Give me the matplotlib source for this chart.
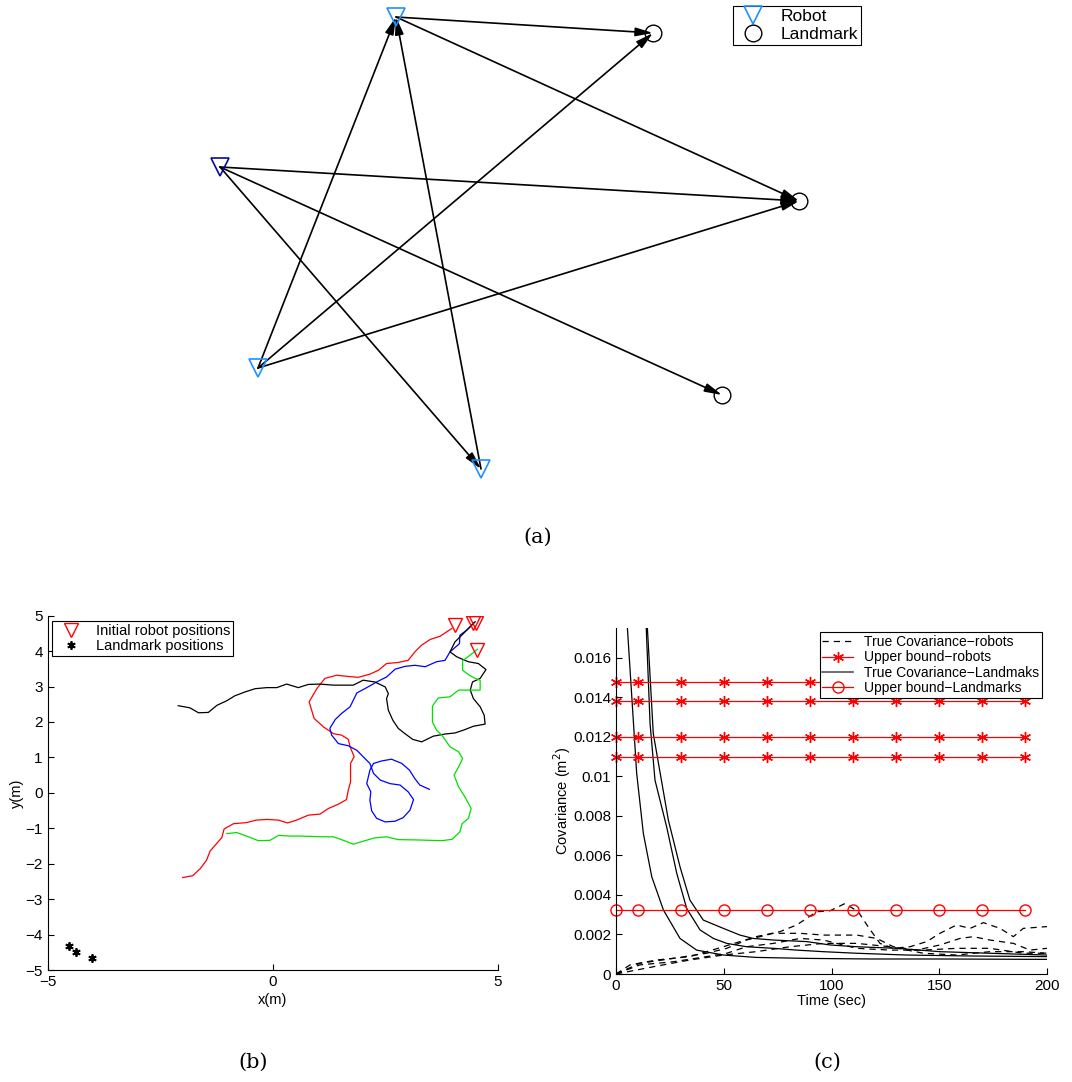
import matplotlib
matplotlib.use("Agg")
import matplotlib.pyplot as plt
from matplotlib.lines import Line2D

plt.rcParams["font.family"] = ["Liberation Sans", "DejaVu Sans"]
plt.rcParams["axes.linewidth"] = 0.8

# ---------------- panel (a): sensing graph (page pixel coords) ----------------
robot_names = ["R1", "R2", "R3", "R4"]
robot_x = [396, 220, 258, 481]
robot_y = [17, 167, 368, 469]
robot_colors = ["#1E90FF", "#0A0A9A", "#1E90FF", "#1E90FF"]
landmark_names = ["L1", "L2", "L3"]
landmark_x = [653, 799, 722]
landmark_y = [33, 201, 395]
edge_src = ["R1", "R1", "R2", "R2", "R2", "R3", "R3", "R3", "R4"]
edge_dst = ["L1", "L2", "L2", "L3", "R4", "R1", "L1", "L2", "R1"]

# ---------------- panel (b): trajectories ----------------
red_x = [3.98, 3.72, 3.50, 3.31, 3.16, 3.01, 2.79, 2.53, 2.35, 2.16, 1.90, 1.64, 1.42, 1.16,
         0.98, 0.81, 0.92, 1.13, 1.35, 1.53, 1.68, 1.72, 1.81, 1.73, 1.73, 1.68, 1.64, 1.46,
         1.24, 1.05, 0.79, 0.53, 0.33, 0.13, -0.13, -0.37, -0.58, -0.87, -1.08, -1.13, -1.28,
         -1.39, -1.47, -1.61, -1.78, -2.00]
red_y = [4.64, 4.42, 4.33, 4.17, 3.98, 3.74, 3.68, 3.65, 3.46, 3.35, 3.26, 3.29, 3.32, 3.23,
         2.94, 2.57, 2.10, 1.86, 1.67, 1.63, 1.51, 1.30, 1.02, 0.83, 0.31, 0.08, -0.19, -0.32,
         -0.44, -0.60, -0.63, -0.77, -0.85, -0.77, -0.75, -0.77, -0.84, -0.87, -1.02, -1.26,
         -1.48, -1.64, -1.90, -2.14, -2.34, -2.39]
blue_x = [4.47, 4.31, 4.16, 4.15, 3.94, 3.83, 3.64, 3.39, 3.16, 2.94, 2.72, 2.53, 2.31, 2.09,
          1.87, 1.72, 1.53, 1.39, 1.27, 1.31, 1.46, 1.68, 1.87, 2.01, 2.16, 2.24, 2.39, 2.61,
          2.83, 3.01, 3.13, 3.05, 2.90, 2.72, 2.50, 2.31, 2.20, 2.16, 2.18, 2.09, 2.16, 2.24,
          2.42, 2.64, 2.87, 3.04, 3.16, 3.27, 3.48]
blue_y = [4.80, 4.59, 4.45, 4.21, 3.98, 3.74, 3.70, 3.56, 3.60, 3.57, 3.49, 3.27, 3.13, 2.97,
          2.82, 2.43, 2.24, 2.07, 1.82, 1.63, 1.39, 1.33, 1.20, 1.02, 0.83, 0.55, 0.36, 0.26,
          0.22, 0.03, -0.19, -0.49, -0.70, -0.80, -0.82, -0.72, -0.51, -0.21, 0.03, 0.26, 0.64,
          0.83, 0.90, 0.95, 0.83, 0.64, 0.40, 0.22, 0.10]
black_x = [4.50, 4.24, 4.05, 3.94, 4.09, 4.35, 4.57, 4.74, 4.61, 4.44, 4.39, 4.46, 4.61, 4.70,
           4.72, 4.46, 4.24, 4.05, 3.83, 3.57, 3.31, 3.11, 2.94, 2.79, 2.67, 2.57, 2.53, 2.57,
           2.50, 2.27, 2.01, 1.79, 1.57, 1.35, 1.05, 0.79, 0.57, 0.31, 0.09, -0.13, -0.39,
           -0.61, -0.84, -1.02, -1.24, -1.43, -1.65, -1.84, -2.10]
black_y = [4.83, 4.50, 4.26, 3.98, 3.84, 3.70, 3.65, 3.48, 3.23, 3.13, 2.90, 2.66, 2.43, 2.19,
           1.94, 1.88, 1.77, 1.69, 1.66, 1.60, 1.44, 1.51, 1.67, 1.82, 2.05, 2.33, 2.66, 2.80,
           2.99, 3.13, 3.18, 3.04, 3.04, 3.04, 3.07, 3.06, 2.97, 3.07, 2.97, 2.97, 2.94, 2.85,
           2.74, 2.60, 2.47, 2.27, 2.26, 2.40, 2.46]
green_x = [4.55, 4.39, 4.22, 4.22, 4.37, 4.50, 4.61, 4.61, 4.31, 4.13, 3.94, 3.68, 3.55, 3.55,
           3.64, 3.76, 3.94, 4.13, 4.22, 4.13, 4.03, 4.13, 4.27, 4.41, 4.35, 4.21, 4.16, 3.99,
           3.76, 3.50, 3.24, 2.79, 2.53, 2.27, 2.05, 1.79, 1.57, 1.35, 1.09, 0.61, 0.39, 0.13,
           -0.06, -0.32, -0.54, -0.80, -1.02]
green_y = [4.05, 3.89, 3.73, 3.46, 3.32, 3.23, 3.18, 2.90, 2.90, 2.90, 2.71, 2.68, 2.45, 2.00,
           1.77, 1.63, 1.30, 1.16, 0.97, 0.73, 0.50, 0.17, -0.11, -0.44, -0.72, -0.87, -1.10,
           -1.31, -1.35, -1.34, -1.33, -1.32, -1.24, -1.27, -1.35, -1.45, -1.34, -1.24, -1.24,
           -1.22, -1.22, -1.20, -1.34, -1.35, -1.24, -1.12, -1.15]
init_x = [4.05, 4.46, 4.52, 4.55]
init_y = [4.73, 4.78, 4.80, 4.03]
lm_x = [-4.52, -4.38, -4.01]
lm_y = [-4.32, -4.49, -4.66]

# ---------------- panel (c): covariance ----------------
ub_t = [0, 10, 30, 50, 70, 90, 110, 130, 150, 170, 190]
ub_robot_levels = [0.0148, 0.0138, 0.0120, 0.0110]
ub_landmark_level = 0.00323

lmA_t = [4.8, 5.3, 9.6, 12.7, 16.6, 22, 29.7, 37.4, 49.8, 65, 88.5, 119, 150, 200]
lmA_v = [0.019, 0.0175, 0.01015, 0.00711, 0.00492, 0.00324, 0.0018, 0.00121, 0.00096,
         0.00084, 0.00079, 0.00076, 0.00076, 0.00074]
lmB_t = [13.5, 15.8, 18.1, 23.5, 28.2, 32.8, 39, 45.2, 51.4, 60.6, 73, 83.8, 96.2, 111.7,
         134.9, 165.8, 200]
lmB_v = [0.019, 0.01268, 0.00981, 0.00745, 0.00509, 0.00332, 0.00223, 0.0018, 0.00155,
         0.00138, 0.0013, 0.00121, 0.00113, 0.00105, 0.00096, 0.00091, 0.00088]
lmC_t = [13.8, 17.3, 24.3, 29.7, 34.3, 40.5, 49.8, 57.5, 63.7, 73, 88.5, 99.3, 111.7, 130.2,
         150.3, 173.5, 200]
lmC_v = [0.019, 0.01217, 0.00779, 0.00543, 0.00374, 0.00273, 0.00231, 0.00197, 0.0018,
         0.00172, 0.00164, 0.00147, 0.00138, 0.0013, 0.00113, 0.00105, 0.00096]

rb1_t = [0, 6.5, 18.9, 34.3, 49.8, 65, 76, 83.8, 93.1, 99.3, 106.3, 112.4, 117, 122.5, 128.7,
         136.4, 144.2, 150.3, 158, 164.3, 170.5, 178.2, 184.4, 189, 200]
rb1_v = [0, 0.00046, 0.00071, 0.00088, 0.00138, 0.00189, 0.00214, 0.00248, 0.00315, 0.0032,
         0.00357, 0.00315, 0.00239, 0.00155, 0.0013, 0.00138, 0.00164, 0.00206, 0.00248,
         0.00231, 0.0026, 0.00231, 0.00189, 0.00231, 0.0024]
rb2_t = [0, 11, 26.6, 42, 51.4, 60.6, 73, 85.4, 96.2, 111.7, 121, 128.7, 139.5, 150.3, 159.6,
         165.8, 173.5, 184.4, 192.1, 200]
rb2_v = [0, 0.00054, 0.00079, 0.00105, 0.0013, 0.00172, 0.00206, 0.00206, 0.00197, 0.00197,
         0.0018, 0.00138, 0.00121, 0.00147, 0.0018, 0.00189, 0.00172, 0.00155, 0.00121, 0.0013]
rb3_t = [0, 11, 26.6, 42, 51.4, 60.6, 73, 85.4, 96.2, 111.7, 127.1, 142.7, 158, 173.5, 189, 200]
rb3_v = [0, 0.00046, 0.00062, 0.00088, 0.00105, 0.00138, 0.00155, 0.0018, 0.00172, 0.0013,
         0.00121, 0.00121, 0.0013, 0.0013, 0.00105, 0.00105]
rb4_t = [0, 18.9, 34.3, 49.8, 65, 80.7, 96.2, 111.7, 127.1, 142.7, 158, 173.5, 189, 200]
rb4_v = [0, 0.0004, 0.00071, 0.00096, 0.00113, 0.00138, 0.00155, 0.00155, 0.00138, 0.00105,
         0.00096, 0.00113, 0.00113, 0.00105]

W, H = 1072, 1082
fig = plt.figure(figsize=(W / 100, H / 100), dpi=100)

# ===== (a) =====
axa = fig.add_axes([0, 1 - 510 / H, 1, 510 / H])
axa.set_xlim(0, W)
axa.set_ylim(510, 0)
axa.axis("off")
pos = {}
for n, x, y in zip(robot_names, robot_x, robot_y):
    pos[n] = (x, y)
for n, x, y in zip(landmark_names, landmark_x, landmark_y):
    pos[n] = (x, y)
for s, d in zip(edge_src, edge_dst):
    axa.annotate("", xy=pos[d], xytext=pos[s],
                 arrowprops=dict(arrowstyle="-|>,head_length=0.8,head_width=0.2",
                                 color="black", lw=1.2, shrinkA=0, shrinkB=0,
                                 mutation_scale=13))
for x, y, c in zip(robot_x, robot_y, robot_colors):
    axa.plot(x, y, "v", ms=13, mfc="none", mec=c, mew=1.2, zorder=5)
axa.plot(landmark_x, landmark_y, "o", ms=12, mfc="none", mec="black", mew=1.0, zorder=5)
h_a = [Line2D([], [], ls="none", marker="v", ms=13, mfc="none", mec="#1E90FF", mew=1.2),
       Line2D([], [], ls="none", marker="o", ms=12, mfc="none", mec="black", mew=1.0)]
leg = axa.legend(h_a, ["Robot", "Landmark"], loc="upper left",
                 bbox_to_anchor=(733 / W, 1 - 6 / 510), fontsize=12.5, frameon=True,
                 fancybox=False, edgecolor="black", framealpha=1, borderaxespad=0,
                 labelspacing=0.2, handlelength=2.0, handletextpad=0.6,
                 borderpad=0.15)
leg.get_frame().set_linewidth(0.8)
fig.text(538 / W, 1 - 537 / H, "(a)", family="DejaVu Serif", fontsize=15,
         ha="center", va="center")

# ===== (b) =====
axb = fig.add_axes([47.7 / W, 1 - 970 / H, 450 / W, 354.3 / H])
axb.plot(red_x, red_y, color="red", lw=0.9)
axb.plot(blue_x, blue_y, color="blue", lw=0.9)
axb.plot(black_x, black_y, color="black", lw=0.9)
axb.plot(green_x, green_y, color="#00E000", lw=0.9)
axb.plot(init_x, init_y, "v", ms=10, mfc="none", mec="red", mew=1.0,
         label="Initial robot positions")
axb.plot(lm_x, lm_y, ls="none", marker=(6, 2, 0), ms=6, mec="black", mew=1.3,
         label="Landmark positions")
axb.set_xlim(-5, 5)
axb.set_ylim(-5, 5)
axb.set_xticks([-5, 0, 5])
axb.set_yticks(range(-5, 6))
axb.set_xticklabels(["\u22125", "0", "5"])
axb.set_yticklabels([str(v).replace("-", "\u2212") for v in range(-5, 6)])
axb.spines["top"].set_visible(False)
axb.spines["right"].set_visible(False)
axb.tick_params(direction="in", labelsize=11, length=4)
axb.set_xlabel("x(m)", fontsize=10.5, labelpad=3)
axb.set_ylabel("y(m)", fontsize=10.5, labelpad=1)
legb = axb.legend(loc="upper left", bbox_to_anchor=(0.01, 0.985), fontsize=10.5,
                  fancybox=False, edgecolor="black", framealpha=1, borderaxespad=0,
                  labelspacing=0.1, handlelength=2.2, borderpad=0.2, handletextpad=0.6)
legb.get_frame().set_linewidth(0.8)
fig.text(253 / W, 1 - 1062 / H, "(b)", family="DejaVu Serif", fontsize=15,
         ha="center", va="center")

# ===== (c) =====
axc = fig.add_axes([616 / W, 1 - 974 / H, 431 / W, 345.7 / H])
dash = (0, (5, 4))
for t, v in [(rb1_t, rb1_v), (rb2_t, rb2_v), (rb3_t, rb3_v), (rb4_t, rb4_v)]:
    axc.plot(t, v, color="black", ls=dash, lw=0.9)
for t, v in [(lmA_t, lmA_v), (lmB_t, lmB_v), (lmC_t, lmC_v)]:
    axc.plot(t, v, color="black", lw=0.9)
for lvl in ub_robot_levels:
    axc.plot(ub_t, [lvl] * len(ub_t), color="red", lw=0.9, marker=(6, 2, 0), ms=8,
             mew=1.0, clip_on=False)
axc.plot(ub_t, [ub_landmark_level] * len(ub_t), color="red", lw=0.9, marker="o", ms=8,
         mfc="none", mew=1.0, clip_on=False)
h_c = [Line2D([], [], color="black", ls=dash, lw=0.9),
       Line2D([], [], color="red", lw=0.9, marker=(6, 2, 0), ms=8, mew=1.0),
       Line2D([], [], color="#555555", lw=1.2),
       Line2D([], [], color="red", lw=0.9, marker="o", ms=8, mfc="none", mew=1.0)]
legc = axc.legend(h_c, ["True Covariance\u2212robots", "Upper bound\u2212robots",
                        "True Covariance\u2212Landmaks", "Upper bound\u2212Landmarks"],
                  loc="upper right", bbox_to_anchor=(1 - 5 / 431, 1 - 4 / 345.7),
                  fontsize=10, fancybox=False, edgecolor="black", framealpha=1,
                  borderaxespad=0, labelspacing=0.1, handlelength=2.2, borderpad=0.2,
                  handletextpad=0.8)
legc.get_frame().set_linewidth(0.8)
legc.set_zorder(10)
axc.set_xlim(0, 200)
axc.set_ylim(0, 0.0175)
axc.set_xticks([0, 50, 100, 150, 200])
axc.set_yticks([0, 0.002, 0.004, 0.006, 0.008, 0.01, 0.012, 0.014, 0.016])
axc.set_yticklabels(["0", "0.002", "0.004", "0.006", "0.008", "0.01", "0.012", "0.014",
                     "0.016"])
axc.spines["top"].set_visible(False)
axc.spines["right"].set_visible(False)
axc.tick_params(direction="in", labelsize=11, length=4)
axc.set_xlabel("Time (sec)", fontsize=10.5, labelpad=1)
axc.set_ylabel("Covariance (m$^2$)", fontsize=10.5, labelpad=0)
fig.text(827 / W, 1 - 1062 / H, "(c)", family="DejaVu Serif", fontsize=15,
         ha="center", va="center")

fig.savefig("out.png", dpi=100)
